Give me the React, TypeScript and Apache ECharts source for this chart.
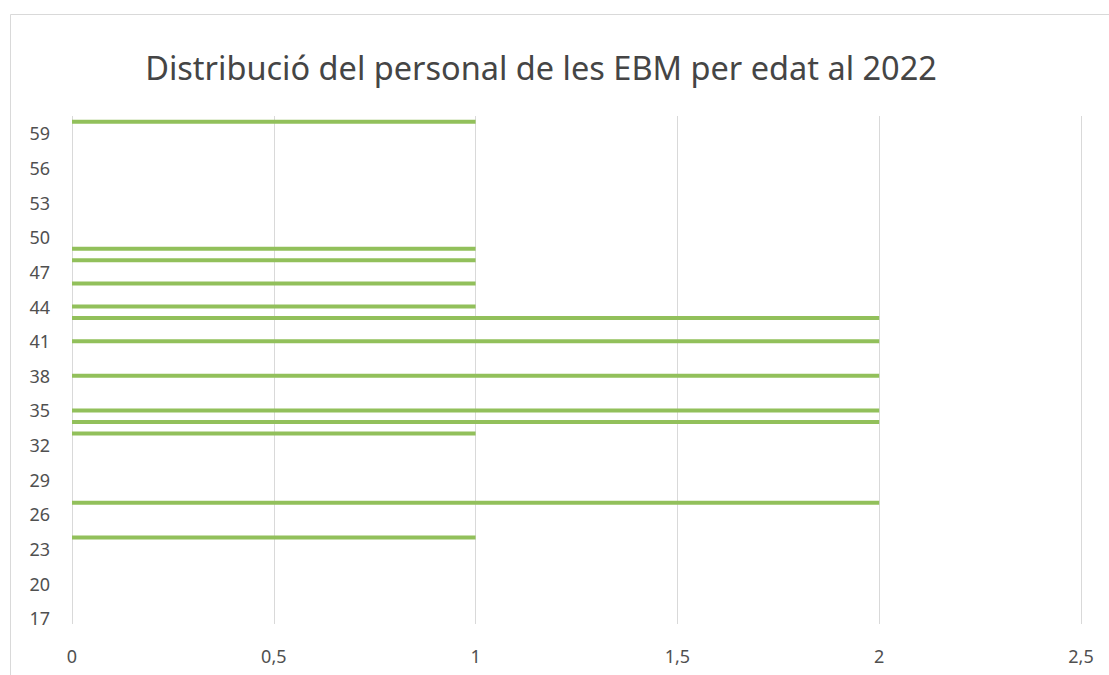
import React, { useEffect, useRef } from "react";
import * as echarts from "echarts";

const TITLE = "Distribució del personal de les EBM per edat al 2022";

const ages = [
  "17", "18", "19", "20", "21", "22", "23", "24", "25", "26", "27",
  "28", "29", "30", "31", "32", "33", "34", "35", "36", "37", "38",
  "39", "40", "41", "42", "43", "44", "45", "46", "47", "48", "49",
  "50", "51", "52", "53", "54", "55", "56", "57", "58", "59", "60",
];

const counts = [
  0, 0, 0, 0, 0, 0, 0, 1, 0, 0, 2,
  0, 0, 0, 0, 0, 1, 2, 2, 0, 0, 2,
  0, 0, 2, 0, 2, 1, 0, 1, 0, 1, 1,
  0, 0, 0, 0, 0, 0, 0, 0, 0, 0, 1,
];

const xTicks = [0, 0.5, 1, 1.5, 2, 2.5];

export default function App() {
  const ref = useRef<HTMLDivElement>(null);

  useEffect(() => {
    if (!ref.current) return;
    const chart = echarts.init(ref.current, null, { renderer: "svg" });
    const textColor = "#505050";
    chart.setOption({
      animation: false,
      backgroundColor: "#ffffff",
      graphic: [
        {
          type: "rect",
          shape: { x: 10.5, y: 14.5, width: 1120, height: 700 },
          style: { fill: "none", stroke: "#d9d9d9", lineWidth: 1 },
          silent: true,
          z: -1,
        },
        {
          type: "text",
          x: 541,
          y: 67,
          style: {
            text: TITLE,
            textAlign: "center",
            textVerticalAlign: "middle",
            fill: "#454545",
            fontFamily: "Noto Sans",
            fontSize: 32.5,
          },
        },
      ],
      grid: { left: 72, right: 28, top: 116, bottom: 51, containLabel: false },
      xAxis: {
        type: "value",
        min: xTicks[0],
        max: xTicks[xTicks.length - 1],
        interval: 0.5,
        axisLine: { show: false },
        axisTick: { show: false },
        splitLine: { show: true, lineStyle: { color: "#d9d9d9", width: 1 } },
        axisLabel: {
          color: textColor,
          fontFamily: "Noto Sans",
          fontSize: 18,
          margin: 23,
          formatter: (v: number) => String(v).replace(".", ","),
        },
      },
      yAxis: {
        type: "category",
        data: ages,
        axisLine: { show: false },
        axisTick: { show: false },
        splitLine: { show: false },
        axisLabel: {
          interval: 2,
          color: textColor,
          fontFamily: "Noto Sans",
          fontSize: 18,
          margin: 22,
        },
      },
      series: [
        {
          type: "bar",
          data: counts,
          barWidth: 4,
          itemStyle: { color: "#92c05b" },
        },
      ],
    });
    return () => chart.dispose();
  }, []);

  return (
    <div
      ref={ref}
      style={{ position: "fixed", left: 0, top: 0, width: 1109, height: 675, background: "#fff" }}
    />
  );
}
